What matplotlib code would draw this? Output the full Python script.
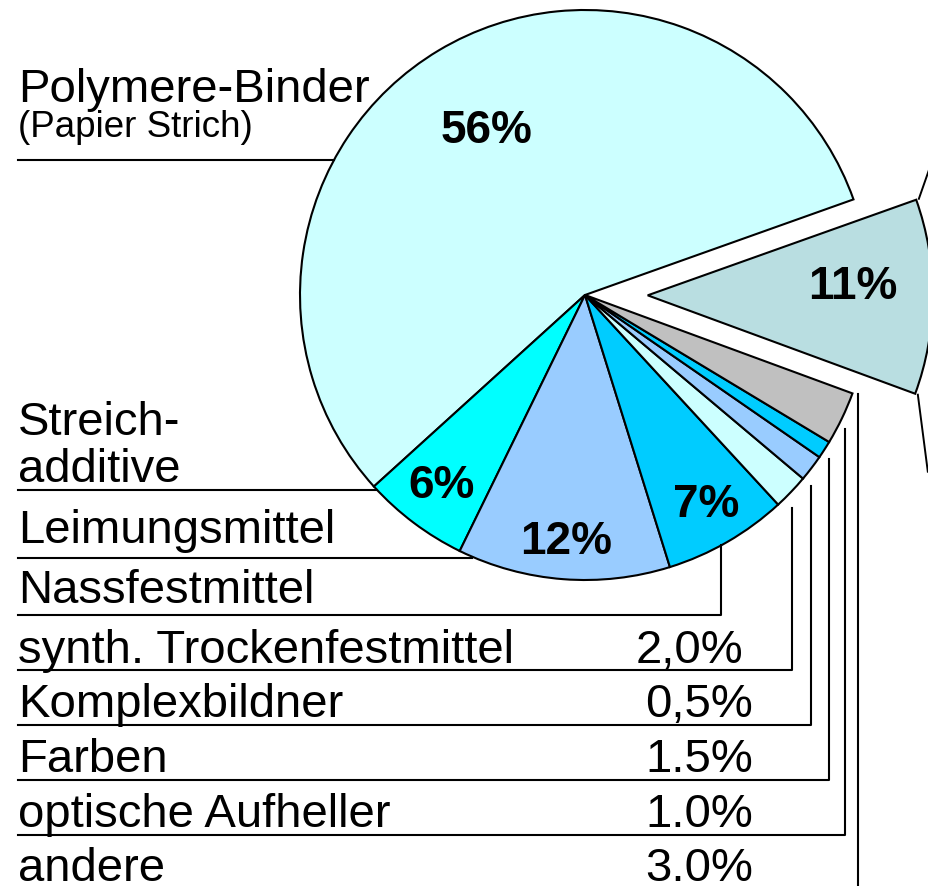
import numpy as np
import matplotlib.pyplot as plt

plt.rcParams['font.family'] = ['Liberation Sans', 'DejaVu Sans']

# visible slices, counter-clockwise starting at the upper right
shares = [56, 6, 12, 7, 2, 1.5, 1, 3, 11]
share_text = ['56%', '6%', '12%', '7%', '', '', '', '', '11%']
colors = ['#ccffff', '#00ffff', '#99ccff', '#00ccff', '#ccffff',
          '#99ccff', '#00ccff', '#c0c0c0', '#b9dee1']
explode = [0, 0, 0, 0, 0, 0, 0, 0, 0.22]
text_dist = [0.67, 0.84, 0.87, 0.85, 0, 0, 0, 0, 0.72]
text_turn = [0, 0, 0, 0, 0, 0, 0, 0, 2.5]

# labels on the left
big_names = ['Polymere-Binder', 'Streich-', 'Leimungsmittel', 'Nassfestmittel']
small_names = ['synth. Trockenfestmittel', 'Komplexbildner', 'Farben',
               'optische Aufheller', 'andere']
small_values = ['2,0%', '0,5%', '1.5%', '1.0%', '3.0%']

# picture geometry in pixels
W, H = 929, 886
CX, CY, R = 585, 295, 285


def ux(x):
    return (x - CX) / R


def uy(y):
    return (CY - y) / R


def rim_left(y):
    d = uy(y)
    return -np.sqrt(1 - d * d)


def rim_low(x):
    d = ux(x)
    return -np.sqrt(1 - d * d)


fig = plt.figure(figsize=(W / 100, H / 100), dpi=100)
ax = fig.add_axes([0, 0, 1, 1])
ax.set_aspect('equal')
ax.axis('off')

wedges, _ = ax.pie(shares, colors=colors, explode=explode, startangle=19.6,
                   counterclock=True, radius=1, center=(0, 0),
                   wedgeprops=dict(edgecolor='black', linewidth=1.5))
ax.set_xlim(ux(0), ux(W))
ax.set_ylim(uy(H), uy(0))

for w, txt, d, t in zip(wedges, share_text, text_dist, text_turn):
    if not txt:
        continue
    a = np.deg2rad((w.theta1 + w.theta2) / 2 + t)
    x0, y0 = w.center
    ax.text(x0 + d * np.cos(a), y0 + d * np.sin(a), txt, ha='center', va='center',
            fontsize=33, fontweight='bold')

# leader lines of the exploded slice, pointing to labels outside the picture
last = wedges[-1]
x0, y0 = last.center
for ang, dx, dy in [(last.theta2, 0.035, 0.10), (last.theta1, 0.035, -0.27)]:
    a = np.deg2rad(ang)
    px0 = x0 + 1.01 * np.cos(a)
    py0 = y0 + 1.01 * np.sin(a)
    ax.plot([px0, px0 + dx], [py0, py0 + dy], color='black', lw=1.4, clip_on=False)

lab_x = ux(18)
fs = 34
lw = 1.5

# Polymere-Binder
ax.text(lab_x, uy(102), big_names[0], fontsize=fs, va='baseline')
ax.text(lab_x, uy(137), '(Papier Strich)', fontsize=26.5, va='baseline')
ax.plot([lab_x, rim_left(160)], [uy(160), uy(160)], color='black', lw=lw)

# Streich-additive
ax.text(lab_x, uy(435), big_names[1], fontsize=fs, va='baseline')
ax.text(lab_x, uy(482), 'additive', fontsize=fs, va='baseline')
ax.plot([lab_x, rim_left(490)], [uy(490), uy(490)], color='black', lw=lw)

# Leimungsmittel
ax.text(lab_x, uy(543), big_names[2], fontsize=fs, va='baseline')
ax.plot([lab_x, rim_left(558) - 0.01], [uy(558), uy(558)], color='black', lw=lw)

# Nassfestmittel
ax.text(lab_x, uy(603), big_names[3], fontsize=fs, va='baseline')
ax.plot([lab_x, ux(721), ux(721)], [uy(615), uy(615), rim_low(721)],
        color='black', lw=lw)

# small items with values
base_y = [663, 717, 772, 827, 881]
line_y = [670, 725, 780, 835, 892]
vert_x = [792, 811, 829, 845, 858]
val_right = [743, 753, 753, 753, 753]
for name, val, by, ly, vx, vr in zip(small_names, small_values, base_y, line_y,
                                     vert_x, val_right):
    ax.text(lab_x, uy(by), name, fontsize=fs, va='baseline')
    ax.text(ux(vr), uy(by), val, fontsize=fs, va='baseline', ha='right')
    top = rim_low(vx) - 0.06
    ax.plot([lab_x, ux(vx), ux(vx)], [uy(ly), uy(ly), top],
            color='black', lw=lw, clip_on=False)

fig.savefig('out.png', dpi=100)
